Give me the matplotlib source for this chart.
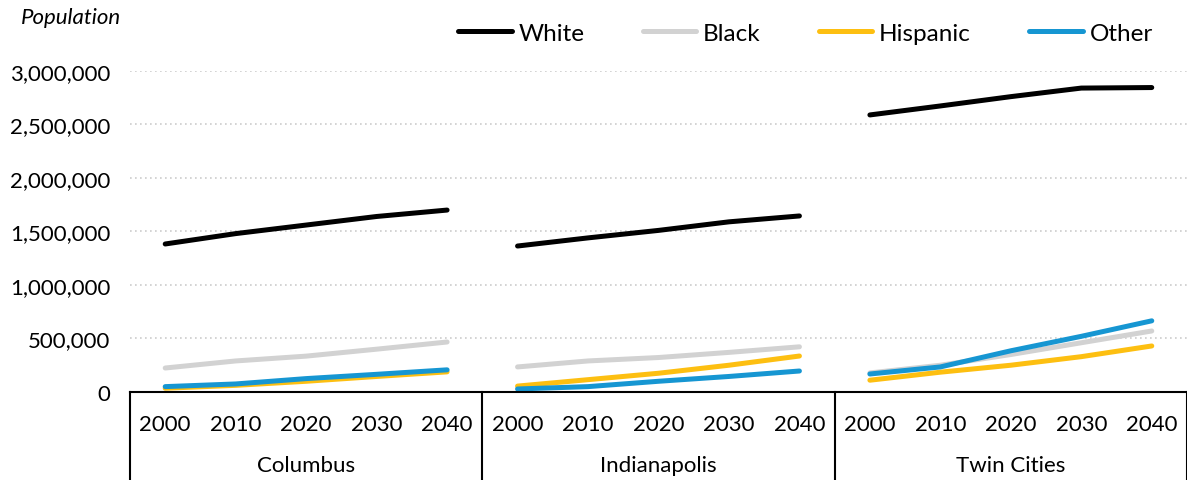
import matplotlib
matplotlib.use('Agg')

import matplotlib.pyplot as plt
import matplotlib.ticker as mticker
from matplotlib.lines import Line2D
import matplotlib.transforms as mtransforms

plt.rcParams['font.family'] = ['Lato', 'DejaVu Sans']

# Projected population by race/ethnicity for three metro areas
metros = ['Columbus', 'Indianapolis', 'Twin Cities']
years = ['2000', '2010', '2020', '2030', '2040']

white = [
    [1383000, 1480000, 1560000, 1640000, 1700000],
    [1364000, 1440000, 1510000, 1590000, 1645000],
    [2589000, 2673000, 2760000, 2840000, 2845000],
]
black = [
    [224000, 290000, 335000, 400000, 467000],
    [234000, 290000, 322000, 370000, 422000],
    [178000, 250000, 350000, 460000, 570000],
]
hispanic = [
    [35000, 62000, 100000, 145000, 188000],
    [55000, 115000, 175000, 250000, 336000],
    [110000, 185000, 250000, 330000, 430000],
]
other = [
    [50000, 75000, 125000, 165000, 207000],
    [28000, 50000, 100000, 145000, 196000],
    [168000, 234000, 385000, 520000, 665000],
]

seriesNames = ['White', 'Black', 'Hispanic', 'Other']
seriesValues = [white, black, hispanic, other]
seriesColors = ['#000000', '#d2d2d2', '#fdbf11', '#1696d2']

fig = plt.figure(figsize=(11.87, 4.81), dpi=100)
ax = fig.add_axes([0.1095, 0.183, 0.8905, 0.6674])

nYears = len(years)
for name, values, color in zip(seriesNames, seriesValues, seriesColors):
    for g, groupVals in enumerate(values):
        xs = [g * nYears + i for i in range(nYears)]
        ax.plot(xs, groupVals, color=color, linewidth=3.6, solid_capstyle='round',
                label=name if g == 0 else None)

ax.set_xlim(-0.5, len(metros) * nYears - 0.5)
ax.set_ylim(0, 3000000)
ax.yaxis.set_major_locator(mticker.MultipleLocator(500000))
ax.yaxis.set_major_formatter(mticker.FuncFormatter(lambda v, p: '{:,.0f}'.format(v)))
ax.tick_params(axis='y', length=0, labelsize=16, pad=14)

# year ticks repeated under each metro
ax.set_xticks(range(len(metros) * nYears))
ax.set_xticklabels(years * len(metros))
ax.tick_params(axis='x', length=0, labelsize=16, pad=16)

# dotted gridlines (skip the zero line, that is the axis)
for v in range(500000, 3000001, 500000):
    ax.axhline(v, color='#cccccc', linewidth=1.2, linestyle=(0, (1, 2)), zorder=0)

for side in ['left', 'right', 'top']:
    ax.spines[side].set_visible(False)
ax.spines['bottom'].set_linewidth(1.5)

# group separators and metro labels below the axis
trans = mtransforms.blended_transform_factory(ax.transData, ax.transAxes)
for g in range(len(metros) + 1):
    xb = g * nYears - 0.5
    ax.add_line(Line2D([xb, xb], [0, -0.28], transform=trans, color='black',
                       linewidth=1.5, clip_on=False))
for g, metro in enumerate(metros):
    ax.text(g * nYears + (nYears - 1) / 2.0, -0.228, metro, transform=trans,
            ha='center', va='center', fontsize=16)

fig.text(0.018, 0.962, 'Population', fontsize=16, style='italic', ha='left', va='center')

ax.legend(loc='center right', bbox_to_anchor=(0.977, 1.118), ncol=4, frameon=False,
          fontsize=17.5, handlelength=2.2, handletextpad=0.28, columnspacing=2.4,
          borderaxespad=0)

plt.savefig('out.png', dpi=100)
